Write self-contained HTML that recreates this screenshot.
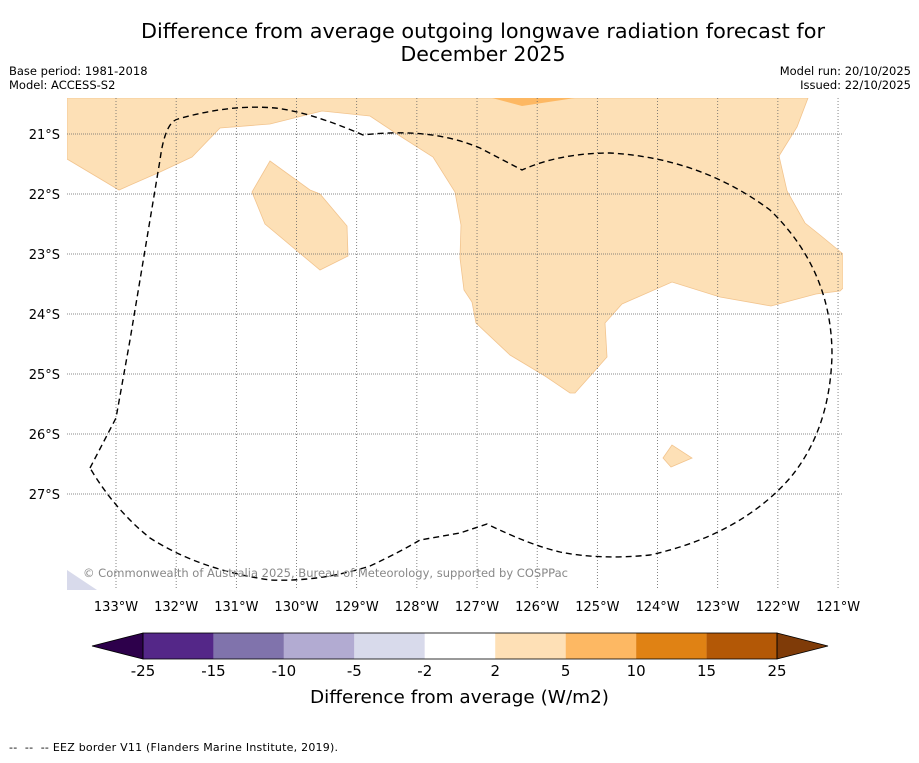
<!DOCTYPE html>
<html><head><meta charset="utf-8"><style>
body{margin:0;background:#fff;width:919px;height:758px;overflow:hidden;font-family:"Liberation Sans","DejaVu Sans",sans-serif}
</style></head><body>
<svg id="fig" width="919" height="758" xmlns="http://www.w3.org/2000/svg" font-family="DejaVu Sans, Liberation Sans, sans-serif">
<rect width="919" height="758" fill="#fff"/>
<text x="141" y="38" font-size="20.5" textLength="684" lengthAdjust="spacingAndGlyphs">Difference from average outgoing longwave radiation forecast for</text>
<text x="483" y="61" font-size="20.5" text-anchor="middle">December 2025</text>
<text x="9" y="75" font-size="11.5">Base period: 1981-2018</text>
<text x="9" y="89" font-size="11.5">Model: ACCESS-S2</text>
<text x="911" y="75" font-size="11.5" text-anchor="end">Model run: 20/10/2025</text>
<text x="911" y="89" font-size="11.5" text-anchor="end">Issued: 22/10/2025</text>
<defs><clipPath id="mc"><rect x="67" y="98" width="776" height="492"/></clipPath></defs>
<g id="map" clip-path="url(#mc)">
<rect x="67" y="98" width="776" height="492" fill="#fff"/>
<polygon fill="#fde0b6" stroke="#f2c48e" stroke-width="0.8" points="67,98 67,159 119,190 160,172 192,157 220,128 270,124 322,111 370,116 400,136 433,157 455,192 461,225 460,258 464,290 472,302 476,323 510,355 545,376 570,393 575,393 607,357 605,323 622,304 672,282 720,297 771,306 816,294 840,291 843,288 843,254 820,235 805,223 787,191 779,156 797,127 808,98"/>
<polygon fill="#fde0b6" stroke="#f2c48e" stroke-width="0.8" points="270,161 252,192 265,224 320,270 348,256 347,226 320,194 310,190"/>
<polygon fill="#fde0b6" stroke="#f2c48e" stroke-width="0.8" points="672,445 663,458 671,467 692,458"/>
<polygon fill="#fdb863" points="492,98 522,106 575,98"/>
<polygon fill="#d8daeb" points="67,570 67,590 97,590"/>
<g id="grid"></g>
<path fill="none" stroke="#000" stroke-width="1.4" stroke-dasharray="6,4" d="M90,468 L116,418 L130,340 L145,250 L160,160 Q165,122 178,119 Q230,104 275,108 Q310,112 363,135 Q430,127 480,148 L522,170 Q560,153 610,153 Q700,158 770,210 Q832,270 832,355 Q830,430 790,478 Q740,535 650,555 Q600,560 560,552 Q530,545 487,524 L460,533 L420,540 Q400,552 370,566 Q320,582 270,580 Q200,570 150,538 Q115,510 90,468"/>
<text x="83" y="577" font-size="11.5" fill="#888" textLength="485" lengthAdjust="spacingAndGlyphs">© Commonwealth of Australia 2025, Bureau of Meteorology, supported by COSPPac</text>
</g>
<g id="labels"></g>
<g id="cbar"></g>
<text x="310" y="703" font-size="18" textLength="299" lengthAdjust="spacingAndGlyphs">Difference from average (W/m2)</text>
<text x="9" y="751" font-size="11" textLength="329" lengthAdjust="spacing" xml:space="preserve">--  --  -- EEZ border V11 (Flanders Marine Institute, 2019).</text>
</svg>
<script>
const lonTicks=[-133,-132,-131,-130,-129,-128,-127,-126,-125,-124,-123,-122,-121];
const latTicks=[-21,-22,-23,-24,-25,-26,-27];
const cbLevels=[-25,-15,-10,-5,-2,2,5,10,15,25];
const cbColors=["#542788","#8073ac","#b2abd2","#d8daeb","#ffffff","#fee0b6","#fdb863","#e08214","#b35806"];
const cbUnder="#2d004b", cbOver="#7f3b08";
const NS="http://www.w3.org/2000/svg";
const xLon=l=>116+(l+133)*60.17;
const yLat=l=>134+(-21-l)*60;
function mk(t,a,p){const e=document.createElementNS(NS,t);for(const k in a)e.setAttribute(k,a[k]);p.appendChild(e);return e;}
const grid=document.getElementById('grid'),labs=document.getElementById('labels');
lonTicks.forEach(l=>{const x=xLon(l);
 const ln=mk('line',{x1:x,x2:x,y1:98,y2:590,stroke:'#666','stroke-width':0.8,'stroke-dasharray':'1,2'},grid);
 
 
 const t=mk('text',{x:x,y:611,'font-size':13,'text-anchor':'middle'},labs);t.textContent=Math.abs(l)+'°W';
 
 });
latTicks.forEach(l=>{const y=yLat(l);
 const ln=mk('line',{x1:67,x2:843,y1:y,y2:y,stroke:'#666','stroke-width':0.8,'stroke-dasharray':'1,1'},grid);
 
 
 const t=mk('text',{x:60,y:y+5,'font-size':13,'text-anchor':'end'},labs);t.textContent=Math.abs(l)+'°S';
 
 });
const cb=document.getElementById('cbar');
const cx0=143,cx1=777,cy=633,ch=26,n=cbLevels.length-1;
const cxi=i=>cx0+(cx1-cx0)*i/n;
cbColors.forEach((c,i)=>{const r=mk('rect',{x:cxi(i),y:cy,width:cxi(i+1)-cxi(i),height:ch,fill:c},cb);
 
 });
const u=mk('polygon',{points:`${cx0},${cy} ${cx0},${cy+ch} 92,${cy+ch/2}`,fill:cbUnder,stroke:'#000','stroke-width':0.8},cb);


const o=mk('polygon',{points:`${cx1},${cy} ${cx1},${cy+ch} 828,${cy+ch/2}`,fill:cbOver,stroke:'#000','stroke-width':0.8},cb);


const fr=mk('rect',{x:cx0,y:cy,width:cx1-cx0,height:ch,fill:'none',stroke:'#000','stroke-width':0.8},cb);


cbLevels.forEach((v,i)=>{const t=mk('text',{x:cxi(i),y:676,'font-size':15,'text-anchor':'middle'},cb);t.textContent=v;
 
 });
</script>
</body></html>
